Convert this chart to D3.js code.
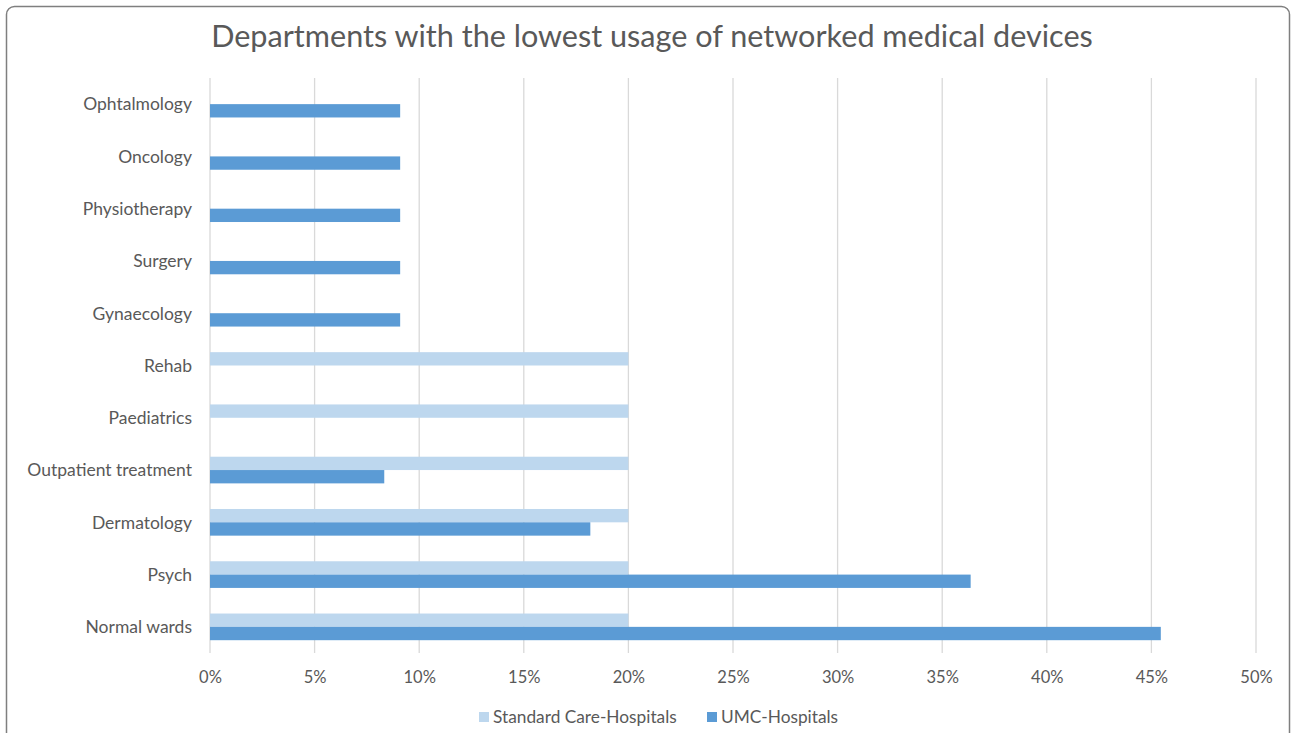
<!DOCTYPE html>
<html>
<head>
<meta charset="utf-8">
<script src="https://cdn.jsdelivr.net/npm/d3@7"></script>
<style>
  body { margin: 0; background: #fff; }
  svg { display: block; }
  text { font-family: Lato, "Open Sans", sans-serif; fill: #595959; }
</style>
</head>
<body>
<div id="chart"></div>
<script>
var departments = ["Ophtalmology", "Oncology", "Physiotherapy", "Surgery", "Gynaecology", "Rehab",
	"Paediatrics", "Outpatient treatment", "Dermatology", "Psych", "Normal wards"];
var standardCare = [0, 0, 0, 0, 0, 20, 20, 20, 20, 20, 20];
var umcHospitals = [9.09, 9.09, 9.09, 9.09, 9.09, 0, 0, 8.33, 18.18, 36.36, 45.45];
var seriesNames = ["Standard Care-Hospitals", "UMC-Hospitals"];
var seriesColors = ["#bdd7ee", "#5b9bd5"];
var xTicks = [0, 5, 10, 15, 20, 25, 30, 35, 40, 45, 50];

var width = 1292, height = 733;
var margin = { left: 210, right: 36, top: 78, bottom: 80 };

var svg = d3.select("#chart").append("svg")
	.attr("width", width)
	.attr("height", height);

// frame
svg.append("rect")
	.attr("x", 6.5).attr("y", 6.5)
	.attr("width", 1283).attr("height", 740)
	.attr("rx", 8)
	.attr("fill", "#fff")
	.attr("stroke", "#7f7f7f")
	.attr("stroke-width", 1.5);

svg.append("text")
	.attr("x", 652).attr("y", 47)
	.attr("text-anchor", "middle")
	.attr("font-size", 30.6)
	.text("Departments with the lowest usage of networked medical devices");

var x = d3.scaleLinear().domain([0, 50]).range([margin.left, width - margin.right]);
var y = d3.scaleBand().domain(departments).range([margin.top, height - margin.bottom])
	.paddingInner(0.49).paddingOuter(0.245);
var sub = d3.scaleBand().domain(seriesNames).range([0, y.bandwidth()]);

// grid lines
svg.append("g").selectAll("line")
	.data(xTicks)
	.enter().append("line")
	.attr("x1", function(d) { return x(d); })
	.attr("x2", function(d) { return x(d); })
	.attr("y1", margin.top)
	.attr("y2", height - margin.bottom)
	.attr("stroke", "#d9d9d9")
	.attr("stroke-width", 1.3);

var rows = departments.map(function(d, i) {
	return { dept: d, values: [standardCare[i], umcHospitals[i]] };
});

var groups = svg.append("g").selectAll("g")
	.data(rows)
	.enter().append("g")
	.attr("transform", function(d) { return "translate(0," + y(d.dept) + ")"; });

groups.selectAll("rect")
	.data(function(d) { return d.values.map(function(v, j) { return { v: v, s: seriesNames[j], c: seriesColors[j] }; }); })
	.enter().append("rect")
	.filter(function(d) { return d.v > 0; })
	.attr("x", x(0))
	.attr("y", function(d) { return sub(d.s); })
	.attr("width", function(d) { return x(d.v) - x(0); })
	.attr("height", sub.bandwidth())
	.attr("fill", function(d) { return d.c; });

// category labels
var yAxis = svg.append("g")
	.attr("transform", "translate(" + (margin.left - 18) + ",0)")
	.call(d3.axisLeft(y).tickSize(0).tickPadding(0));
yAxis.select(".domain").remove();
yAxis.selectAll("text")
	.attr("font-size", 17.5)
	.attr("font-family", "Lato, sans-serif")
	.attr("fill", "#595959")
	.attr("dy", "0.36em");

// x tick labels
var xAxis = svg.append("g")
	.attr("transform", "translate(0," + (height - margin.bottom) + ")")
	.call(d3.axisBottom(x).tickValues(xTicks).tickSize(0).tickPadding(18)
		.tickFormat(function(d) { return d + "%"; }));
xAxis.select(".domain").remove();
xAxis.selectAll("text")
	.attr("font-size", 16.5)
	.attr("font-family", "Lato, sans-serif")
	.attr("fill", "#595959");

// legend
var legendX = [479, 707];
var legend = svg.append("g").selectAll("g")
	.data(seriesNames)
	.enter().append("g")
	.attr("transform", function(d, i) { return "translate(" + legendX[i] + ",717)"; });
legend.append("rect")
	.attr("x", 0).attr("y", -5)
	.attr("width", 10).attr("height", 10)
	.attr("fill", function(d, i) { return seriesColors[i]; });
legend.append("text")
	.attr("x", 14)
	.attr("dy", "0.35em")
	.attr("font-size", 17.3)
	.text(function(d) { return d; });
</script>
</body>
</html>
